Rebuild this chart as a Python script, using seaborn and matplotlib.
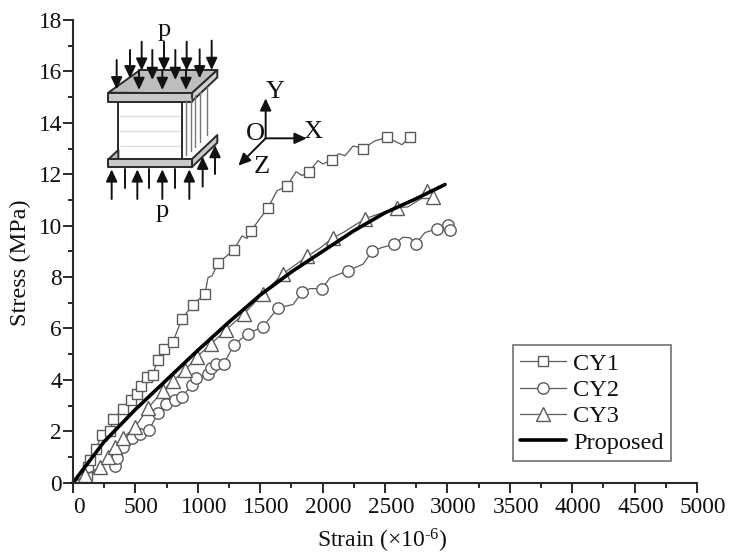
import numpy as np
import matplotlib
matplotlib.use("Agg")
import matplotlib.pyplot as plt
from matplotlib.patches import Polygon
from matplotlib.ticker import MultipleLocator
from matplotlib.transforms import ScaledTranslation
import pandas as pd
import seaborn as sns

# points that carry a marker
cy1_strain = [110, 120, 136, 184, 230, 296, 322, 400, 462, 515, 545, 593, 638, 678, 730, 800, 873, 962, 1058, 1162, 1290, 1426, 1563, 1714, 1891, 2075, 2324, 2516, 2700]
cy1_stress = [0.3, 0.6, 0.87, 1.3, 1.87, 2.0, 2.46, 2.88, 3.2, 3.47, 3.75, 4.1, 4.2, 4.77, 5.2, 5.47, 6.38, 6.93, 7.35, 8.53, 9.07, 9.8, 10.7, 11.53, 12.1, 12.57, 13.0, 13.43, 13.43]
cy2_strain = [337, 353, 400, 470, 537, 609, 681, 745, 817, 873, 953, 986, 1082, 1106, 1146, 1210, 1290, 1402, 1522, 1642, 1835, 1995, 2204, 2396, 2572, 2748, 2917, 3005, 3021]
cy2_stress = [0.66, 0.97, 1.4, 1.75, 1.9, 2.05, 2.7, 3.05, 3.2, 3.35, 3.8, 4.07, 4.23, 4.47, 4.63, 4.63, 5.37, 5.8, 6.07, 6.8, 7.4, 7.55, 8.25, 9.0, 9.27, 9.3, 9.88, 10.04, 9.85]
cy3_strain = [100, 216, 280, 337, 400, 497, 601, 721, 801, 897, 994, 1106, 1226, 1370, 1522, 1683, 1875, 2083, 2340, 2596, 2837, 2885]
cy3_stress = [0.3, 0.6, 1.0, 1.37, 1.75, 2.15, 2.9, 3.58, 3.97, 4.37, 4.9, 5.4, 5.95, 6.57, 7.35, 8.13, 8.8, 9.53, 10.27, 10.7, 11.33, 11.1]

# wiggles of the thin lines between markers
cy1_wig_strain = [0, 1082, 1114, 1354, 1394, 1635, 1787, 1835, 1963, 2003, 2130, 2180, 2245, 2420, 2636]
cy1_wig_stress = [0, 7.98, 8.05, 9.6, 9.5, 11.36, 12.1, 11.95, 12.53, 12.4, 12.8, 12.72, 13.1, 13.3, 13.15]
cy2_wig_strain = [1763, 1899, 2059, 2324, 2476, 2644, 2700, 2820]
cy2_wig_stress = [6.93, 7.55, 7.97, 8.5, 9.15, 9.55, 9.53, 9.73]
cy3_wig_strain = [0, 1980, 2164, 2684, 2805]
cy3_wig_stress = [0, 9.13, 9.73, 10.73, 11.1]

proposed_strain = [0, 250, 500, 750, 1000, 1250, 1500, 1750, 2000, 2250, 2500, 2750, 2981]
proposed_stress = [0, 1.6, 2.85, 4.0, 5.15, 6.25, 7.3, 8.2, 9.0, 9.8, 10.5, 11.05, 11.6]

x_ticks = list(range(0, 5001, 500))
y_ticks = list(range(0, 19, 2))

sns.set_theme(style="ticks")
plt.rcParams['font.family'] = ['Liberation Serif', 'DejaVu Serif']
plt.rcParams['mathtext.fontset'] = 'custom'
plt.rcParams['mathtext.rm'] = 'Liberation Serif'
plt.rcParams['mathtext.default'] = 'rm'

dark = "#2a2a2a"
grey = "#5a5a5a"

fig = plt.figure(figsize=(7.31, 5.56), dpi=100)
ax = fig.add_axes([73/731, (556-482.7)/556, 624/731, 462.7/556])


def series(mx, my, wx, wy):
    # join marker points and wiggle points, return table and marker positions
    df = pd.DataFrame({'strain': mx + wx, 'stress': my + wy, 'mark': [True]*len(mx) + [False]*len(wx)})
    df = df.sort_values('strain').reset_index(drop=True)
    return df, list(df.index[df['mark']])


items = [('CY1', 's', 7.6, cy1_strain, cy1_stress, cy1_wig_strain, cy1_wig_stress),
         ('CY2', 'o', 8.2, cy2_strain, cy2_stress, cy2_wig_strain, cy2_wig_stress),
         ('CY3', '^', 9.6, cy3_strain, cy3_stress, cy3_wig_strain, cy3_wig_stress)]
for name, mk, ms, mx, my, wx, wy in items:
    df, idx = series(mx, my, wx, wy)
    sns.lineplot(data=df, x='strain', y='stress', ax=ax, estimator=None, sort=False,
                 color=grey, lw=0.9, marker=mk, markersize=ms, markevery=idx,
                 markerfacecolor='white', markeredgecolor=grey, markeredgewidth=1.0,
                 label=name, clip_on=False)
sns.lineplot(x=proposed_strain, y=proposed_stress, ax=ax, estimator=None, sort=False,
             color='black', lw=2.6, label='Proposed', clip_on=False)

ax.set_xlim(0, 5000)
ax.set_ylim(0, 18)
ax.set_xticks(x_ticks)
ax.set_yticks(y_ticks)
ax.xaxis.set_minor_locator(MultipleLocator(250))
ax.yaxis.set_minor_locator(MultipleLocator(1))
ax.tick_params(which='major', length=7, width=1.4, color=dark, labelsize=16.8, labelcolor='#111111')
ax.tick_params(axis='x', which='major', pad=3)
ax.tick_params(axis='y', which='major', pad=1)
ax.tick_params(which='minor', length=3.8, width=1.4, color=dark)
sns.despine(ax=ax)
for s in ['left', 'bottom']:
    ax.spines[s].set_linewidth(1.5)
    ax.spines[s].set_color(dark)
# x tick labels sit a little right of their ticks in the original
shift = ScaledTranslation(6/100, 0, fig.dpi_scale_trans)
for lab in ax.get_xticklabels():
    lab.set_transform(lab.get_transform() + shift)
ax.set_xlabel(r'Strain (×10$^{\text{-}6}$)', fontsize=17, color='#111111', va='center')
ax.set_ylabel('Stress (MPa)', fontsize=17.5, color='#111111', va='center')
ax.xaxis.set_label_coords(0.495, -0.126)
ax.yaxis.set_label_coords(-0.085, 0.475)

leg = ax.legend(loc='lower left', bbox_to_anchor=(513/731, (556-461)/556),
                bbox_transform=fig.transFigure, borderaxespad=0, fontsize=17.6,
                frameon=True, fancybox=False, framealpha=1, edgecolor='#666666',
                handlelength=1.85, handletextpad=0.32, labelspacing=0.17, borderpad=0.3)
leg.get_frame().set_linewidth(1.1)
for t in leg.get_texts():
    t.set_color('#111111')

# inset sketch, in coordinates of a 3x view of the top left corner
sk = fig.add_axes([0, 0, 1, 1], facecolor='none')
sk.set_xlim(-180, 2013)
sk.set_ylim(1668, 0)
sk.axis('off')


def poly(pts, fc):
    sk.add_patch(Polygon(pts, closed=True, fc=fc, ec=dark, lw=1.4, joinstyle='round'))


def arrow(x0, y0, x1, y1, lw=1.4):
    sk.annotate('', xy=(x1, y1), xytext=(x0, y0),
                arrowprops=dict(arrowstyle='-|>,head_width=0.28,head_length=0.6', color='#111111', lw=lw, shrinkA=0, shrinkB=0))


for y in [348, 392, 437]:
    sk.plot([180, 360], [y, y], color='#dddddd', lw=0.9)
poly([(175, 305), (365, 305), (365, 478), (175, 478)], 'none')
for x, top, bot in [(378, 300, 465), (392, 295, 452), (406, 285, 440), (420, 275, 425), (440, 262, 405)]:
    sk.plot([x, x], [top, bot], color='#777777', lw=1.0)
poly([(145, 478), (175, 450), (175, 478)], '#bbbbbb')
poly([(395, 478), (472, 405), (472, 428), (395, 502)], '#c8c8c8')
poly([(145, 478), (395, 478), (395, 502), (145, 502)], '#c8c8c8')
poly([(145, 278), (240, 210), (472, 210), (395, 280)], '#bdbdbd')
poly([(395, 280), (472, 210), (472, 232), (395, 305)], '#d0d0d0')
poly([(145, 280), (395, 280), (395, 305), (145, 305)], '#c8c8c8')

for x, y0, y1 in [(170, 180, 268), (210, 150, 235), (245, 125, 212), (277, 150, 240), (312, 125, 212),
                  (346, 150, 240), (380, 125, 212), (419, 148, 235), (455, 122, 210),
                  (237, 210, 270), (307, 210, 270), (378, 210, 270)]:
    arrow(x, y0, x, y1)
for x, y0, y1 in [(155, 597, 508), (232, 597, 508), (307, 597, 508), (388, 597, 508), (428, 560, 470), (465, 522, 435)]:
    arrow(x, y0, x, y1)
for x in [195, 268, 346]:
    sk.plot([x, x], [563, 508], color='#111111', lw=1.4)

arrow(617, 415, 617, 295)
arrow(617, 415, 740, 415)
arrow(617, 415, 535, 497)
for s, x, y in [('p', 313, 90), ('p', 305, 632), ('O', 585, 402), ('Y', 645, 275), ('X', 760, 397), ('Z', 605, 500)]:
    sk.text(x, y, s, fontsize=19, color='#111111', ha='center', va='center')

fig.savefig('out.png', dpi=100)
